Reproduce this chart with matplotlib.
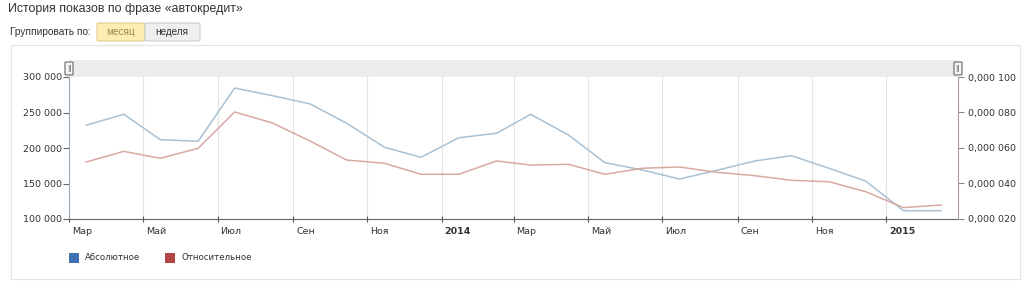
import matplotlib
matplotlib.use("Agg")
import matplotlib.pyplot as plt
import matplotlib.dates as mdates
import matplotlib.transforms as mtrans
from matplotlib.patches import Rectangle, FancyBboxPatch
from matplotlib.ticker import FuncFormatter
import datetime as dt

# ---- data ----
months = [dt.date(2013, m, 15) for m in range(3, 13)] + \
         [dt.date(2014, m, 15) for m in range(1, 13)] + \
         [dt.date(2015, m, 15) for m in range(1, 3)]
absolute = [232000, 247500, 211700, 209400, 284500, 273700, 262000, 234800,
            201000, 186900, 214500, 220700, 247400, 218300, 179300, 169000,
            156300, 168600, 181700, 189200, 171400, 153500, 111700, 111700]
relative = [0.0000521, 0.0000581, 0.0000542, 0.0000598, 0.0000803, 0.0000741,
            0.0000639, 0.0000532, 0.0000514, 0.0000452, 0.0000452, 0.0000527,
            0.0000504, 0.0000508, 0.0000452, 0.0000486, 0.0000493, 0.0000463,
            0.0000444, 0.0000418, 0.0000410, 0.0000354, 0.0000264, 0.0000279]
month_names = ["Янв", "Фев", "Мар", "Апр", "Май", "Июн", "Июл", "Авг",
               "Сен", "Окт", "Ноя", "Дек"]
title = "История показов по фразе «автокредит»"
series_names = ["Абсолютное", "Относительное"]

W, H = 1024, 282
fig = plt.figure(figsize=(W / 100, H / 100), dpi=100)
fig.patch.set_facecolor("white")

def fx(px):
    return px / W

def fy(py):
    return 1 - py / H

# header texts
fig.text(fx(8), fy(9), title, fontsize=8.9, color="#333333",
         family="Liberation Sans", va="center", ha="left")
fig.text(fx(10), fy(32), "Группировать по:", fontsize=7.3, color="#333333",
         family="Liberation Sans", va="center", ha="left")
# buttons
fig.patches.append(FancyBboxPatch((fx(97), fy(41)), fx(48), 18 / H,
                                  boxstyle="round,pad=0,rounding_size=0.003",
                                  transform=fig.transFigure, facecolor="#fbeeb0",
                                  edgecolor="#d8c98a", lw=0.7))
fig.patches.append(FancyBboxPatch((fx(145), fy(41)), fx(55), 18 / H,
                                  boxstyle="round,pad=0,rounding_size=0.003",
                                  transform=fig.transFigure, facecolor="#efefef",
                                  edgecolor="#c8c8c8", lw=0.7))
fig.text(fx(121), fy(32), "месяц", fontsize=7.2, color="#9a8a50",
         family="Liberation Sans", va="center", ha="center")
fig.text(fx(172), fy(32), "неделя", fontsize=7.2, color="#333333",
         family="Liberation Sans", va="center", ha="center")
# panel border
fig.patches.append(Rectangle((fx(11), fy(279)), fx(1009), (279 - 45) / H,
                             transform=fig.transFigure, facecolor="none",
                             edgecolor="#e2e2e2", lw=0.8))
# grey navigator band
fig.patches.append(Rectangle((fx(69), fy(77)), fx(889), 17 / H,
                             transform=fig.transFigure, facecolor="#ececec",
                             edgecolor="none", zorder=0))
for hx in (69, 958):
    fig.patches.append(FancyBboxPatch((fx(hx - 4), fy(75)), fx(8), 13 / H,
                                      boxstyle="round,pad=0,rounding_size=0.002",
                                      transform=fig.transFigure, facecolor="#f4f4f4",
                                      edgecolor="#666666", lw=0.8, zorder=3))
    fig.text(fx(hx), fy(68.5), "||", fontsize=5, color="#555555",
             ha="center", va="center", zorder=4)

ax = fig.add_axes([fx(69), fy(219), fx(889), (219 - 77) / H])
ax.set_facecolor("none")
ax2 = ax.twinx()

ax.plot(months, absolute, color="#a9c1d3", lw=1.1)
ax2.plot(months, relative, color="#d7aaa2", lw=1.1)

ax.set_xlim(dt.datetime(2013, 3, 1), dt.datetime(2015, 2, 28, 20))
ax.set_ylim(100000, 300000)
ax2.set_ylim(0.00002, 0.0001)
ax.set_yticks([100000, 150000, 200000, 250000, 300000])
ax2.set_yticks([0.00002, 0.00004, 0.00006, 0.00008, 0.0001])

ax.yaxis.set_major_formatter(FuncFormatter(
    lambda v, p: "{:,}".format(int(round(v))).replace(",", " ")))
ax2.yaxis.set_major_formatter(FuncFormatter(
    lambda v, p: "0,000 {:03d}".format(int(round(v * 1e6)))))

ax.xaxis.set_major_locator(mdates.MonthLocator(bymonth=[1, 3, 5, 7, 9, 11]))

def xfmt(v, p):
    d = mdates.num2date(v)
    if d.month == 1:
        return str(d.year)
    return month_names[d.month - 1]

ax.xaxis.set_major_formatter(FuncFormatter(xfmt))
ax.grid(axis="x", color="#e4e4e4", lw=0.8)

for a in (ax, ax2):
    a.spines["top"].set_visible(False)
ax.spines["right"].set_visible(False)
ax2.spines["left"].set_visible(False)
ax2.spines["bottom"].set_visible(False)
ax.spines["left"].set_color("#9aabb8")
ax.spines["bottom"].set_color("#666666")
ax2.spines["right"].set_color("#b59a96")

ax.tick_params(axis="y", labelsize=6.8, labelcolor="#333333", color="#666666",
               length=4, width=0.8, pad=1)
ax2.tick_params(axis="y", labelsize=6.8, labelcolor="#333333", color="#888888",
                length=4, width=0.8, pad=3)
ax.tick_params(axis="x", labelsize=6.8, labelcolor="#333333", color="#555555",
               length=4, width=0.8, pad=4, direction="inout")

fig.canvas.draw()
off = mtrans.ScaledTranslation(3 / 100, 0, fig.dpi_scale_trans)
for lbl in ax.get_xticklabels():
    lbl.set_ha("left")
    lbl.set_transform(lbl.get_transform() + off)
    if lbl.get_text().isdigit():
        lbl.set_fontweight("bold")

# legend
legend_items = [(69, "#3f70b2", series_names[0]), (165, "#b34545", series_names[1])]
for lx, col, name in legend_items:
    fig.patches.append(Rectangle((fx(lx), fy(263)), fx(10), 10 / H,
                                 transform=fig.transFigure, facecolor=col,
                                 edgecolor="none"))
    fig.text(fx(lx + 16), fy(258), name, fontsize=6.2, color="#333333",
             va="center", ha="left")

fig.savefig("out.png", dpi=100)
